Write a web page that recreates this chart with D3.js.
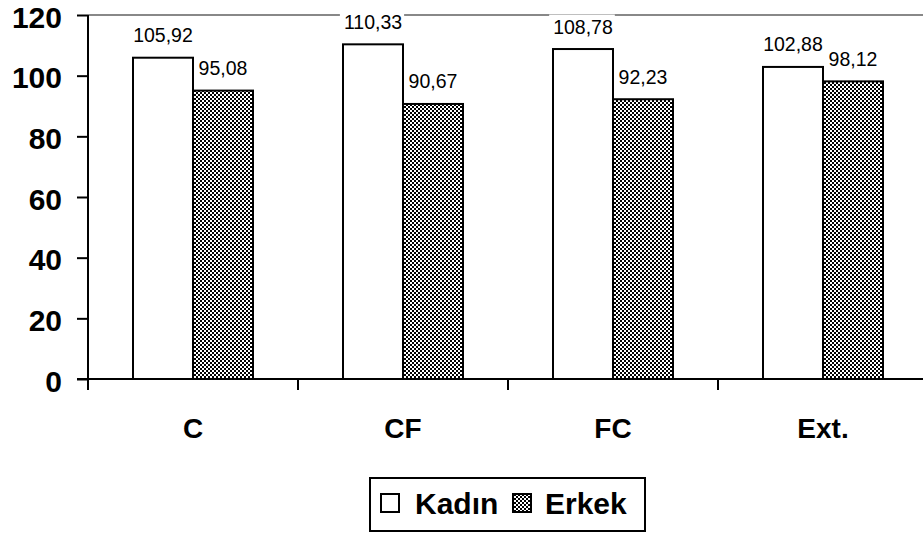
<!DOCTYPE html>
<html>
<head>
<meta charset="utf-8">
<script src="https://cdn.jsdelivr.net/npm/d3@7"></script>
<style>
  html, body { margin: 0; padding: 0; background: #fff; }
  svg { display: block; font-family: Arial, "Liberation Sans", sans-serif; }
</style>
</head>
<body>
<svg id="chart" width="923" height="533"></svg>
<script>
// Categories, series and axis ticks
const categories = ["C", "CF", "FC", "Ext."];
const seriesNames = ["Kadın", "Erkek"];
const kadin = [105.92, 110.33, 108.78, 102.88];
const erkek = [95.08, 90.67, 92.23, 98.12];
const yTicks = [0, 20, 40, 60, 80, 100, 120];

const svg = d3.select("#chart");

// Plot frame
const plotLeft = 88, plotTop = 15, plotBottom = 379, plotRight = 928;

const x = d3.scaleBand().domain(categories).range([plotLeft, plotRight]);
const inner = d3.scaleBand().domain(seriesNames).range([45, x.bandwidth() - 45]);
const y = d3.scaleLinear().domain([0, 120]).range([plotBottom, plotTop]);

// Checkered fill for the second series
const defs = svg.append("defs");
const pat = defs.append("pattern")
  .attr("id", "checker").attr("patternUnits", "userSpaceOnUse")
  .attr("width", 4).attr("height", 4);
pat.append("rect").attr("width", 4).attr("height", 4).attr("fill", "#fff");
pat.append("rect").attr("width", 2).attr("height", 2).attr("fill", "#000");
pat.append("rect").attr("x", 2).attr("y", 2).attr("width", 2).attr("height", 2).attr("fill", "#000");

const fills = { "Kadın": "#fff", "Erkek": "url(#checker)" };

// Top border line at 120
svg.append("line")
  .attr("x1", plotLeft).attr("x2", 923)
  .attr("y1", y(120)).attr("y2", y(120))
  .attr("stroke", "#888").attr("stroke-width", 2);

// Bars
const rows = categories.map((c, i) => ({ c, vals: [{ s: "Kadın", v: kadin[i] }, { s: "Erkek", v: erkek[i] }] }));

const groups = svg.append("g").selectAll("g").data(rows).join("g")
  .attr("transform", d => `translate(${x(d.c)},0)`);

groups.selectAll("rect").data(d => d.vals).join("rect")
  .attr("x", d => inner(d.s))
  .attr("y", d => y(d.v))
  .attr("width", inner.bandwidth())
  .attr("height", d => y(0) - y(d.v))
  .attr("fill", d => fills[d.s])
  .attr("stroke", "#000").attr("stroke-width", 2);

// Value labels with white backing
const fmt = v => v.toFixed(2).replace(".", ",");
groups.selectAll("g.lbl").data(d => d.vals).join("g")
  .attr("class", "lbl")
  .each(function (d) {
    const g = d3.select(this);
    const cx = inner(d.s) + inner.bandwidth() / 2;
    const by = y(d.v) - 15.5;
    const t = g.append("text")
      .attr("x", cx).attr("y", by)
      .attr("text-anchor", "middle")
      .attr("font-size", 19.5)
      .attr("fill", "#000")
      .text(fmt(d.v));
    const bb = t.node().getBBox();
    g.insert("rect", "text")
      .attr("x", bb.x - 4).attr("y", bb.y - 1)
      .attr("width", bb.width + 6).attr("height", bb.height + 2)
      .attr("fill", "#fff");
  });

// Y axis
const yAxis = svg.append("g")
  .attr("transform", `translate(${plotLeft},0)`)
  .call(d3.axisLeft(y).tickValues(yTicks).tickSize(11).tickPadding(15).tickFormat(d3.format("d")));
yAxis.select(".domain").attr("stroke", "#000").attr("stroke-width", 2).attr("d", `M0,${plotTop}V${plotBottom + 11}`);
yAxis.selectAll(".tick line").attr("stroke", "#000").attr("stroke-width", 2);
yAxis.selectAll(".tick text")
  .attr("dy", "0.4em")
  .attr("font-size", 30).attr("font-weight", "bold").attr("fill", "#000")
  .attr("font-family", "Arial, 'Liberation Sans', sans-serif");

// X axis line and category boundary ticks
svg.append("line")
  .attr("x1", plotLeft - 11).attr("x2", 923)
  .attr("y1", plotBottom).attr("y2", plotBottom)
  .attr("stroke", "#000").attr("stroke-width", 2);
svg.append("g").selectAll("line").data(categories.slice(1)).join("line")
  .attr("x1", d => x(d)).attr("x2", d => x(d))
  .attr("y1", plotBottom).attr("y2", plotBottom + 11)
  .attr("stroke", "#000").attr("stroke-width", 2);

// Category labels
svg.append("g").selectAll("text").data(categories).join("text")
  .attr("x", d => x(d) + x.bandwidth() / 2)
  .attr("y", 438)
  .attr("text-anchor", "middle")
  .attr("font-size", 28).attr("font-weight", "bold").attr("fill", "#000")
  .text(d => d);

// Legend
const lg = svg.append("g");
lg.append("rect")
  .attr("x", 370).attr("y", 478).attr("width", 275).attr("height", 53)
  .attr("fill", "#fff").attr("stroke", "#000").attr("stroke-width", 2);
const legendItems = [
  { s: "Kadın", sx: 381, tx: 415 },
  { s: "Erkek", sx: 513, tx: 545 }
];
lg.selectAll("rect.sw").data(legendItems).join("rect")
  .attr("class", "sw")
  .attr("x", d => d.sx).attr("y", 494).attr("width", 18).attr("height", 18)
  .attr("fill", d => fills[d.s]).attr("stroke", "#000").attr("stroke-width", 2);
lg.selectAll("text").data(legendItems).join("text")
  .attr("x", d => d.tx).attr("y", 514)
  .attr("font-size", 30).attr("font-weight", "bold").attr("fill", "#000")
  .text(d => d.s);
</script>
</body>
</html>
